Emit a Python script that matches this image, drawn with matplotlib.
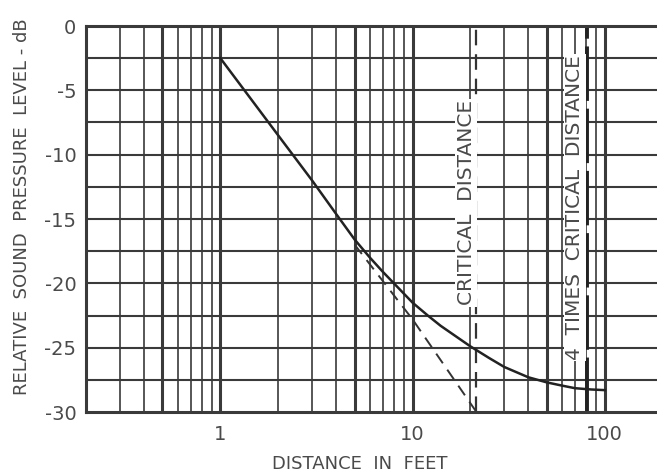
import matplotlib
matplotlib.use('Agg')
import matplotlib.pyplot as plt
import numpy as np

# Values
distance_ft = [1, 2, 3, 4, 5, 6, 7, 8, 10, 12, 14, 16, 20, 25, 30, 40, 50, 60, 70, 85, 100]
level_db = [-2.5, -8.5, -12.0, -14.6, -16.6, -18.0, -19.1, -20.0, -21.5, -22.5, -23.3,
            -23.9, -24.9, -25.8, -26.5, -27.3, -27.7, -27.95, -28.15, -28.25, -28.3]

# direct field only (dashed)
direct_ft = [5.0, 10, 21.5]
direct_db = [-17.0, -22.8, -30.0]

critical_distance = 21.3
four_times_critical = 81

y_ticks = [0, -5, -10, -15, -20, -25, -30]
x_tick_pos = [1, 10, 100]
x_tick_labels = ['1', '10', '100']

ink = '#3a3a3a'
txt = '#4a4a4a'

fig = plt.figure(figsize=(6.57, 4.73), dpi=100)
ax = fig.add_axes([86 / 657, 61 / 473, 571 / 657, 386 / 473])
ax.set_xscale('log')
ax.set_xlim(0.2, 187)
ax.set_ylim(-30, 0)

# grid
minor_x = [0.3, 0.4, 0.6, 0.7, 0.8, 0.9, 2, 3, 4, 6, 7, 8, 9,
           20, 30, 40, 60, 70, 80, 90]
major_x = [0.5, 1, 5, 10, 50, 100]
for xv in minor_x:
    ax.axvline(xv, color=ink, lw=1.2, zorder=1)
for xv in major_x:
    ax.axvline(xv, color=ink, lw=2.2, zorder=1)
for yv in np.arange(-27.5, 0, 2.5):
    ax.axhline(yv, color=ink, lw=1.5, zorder=1)

# curves
ax.plot(distance_ft, level_db, color='#222222', lw=1.8, zorder=3)
ax.plot(direct_ft, direct_db, color='#333333', lw=1.4, ls=(0, (6, 4)), zorder=3)

ax.axvline(critical_distance, color='#333333', lw=1.6, ls=(0, (7, 4)), zorder=2)
ax.axvline(four_times_critical, color='#222222', lw=2.8, ls=(0, (14, 2)), zorder=2)

ax.text(19.0, -13.75, 'CRITICAL  DISTANCE', rotation=90, ha='center', va='center',
        fontsize=14.5, color=txt, zorder=4,
        bbox=dict(facecolor='white', edgecolor='none', pad=1))
ax.text(70, -14.1, '4  TIMES  CRITICAL  DISTANCE', rotation=90, ha='center', va='center',
        fontsize=14.5, color=txt, zorder=4,
        bbox=dict(facecolor='white', edgecolor='none', pad=1))

# axes styling
for side in ['left', 'bottom', 'top']:
    ax.spines[side].set_linewidth(2.2)
    ax.spines[side].set_color(ink)
ax.spines['right'].set_visible(False)

ax.set_yticks(y_ticks)
ax.set_yticklabels([str(v) for v in y_ticks])
ax.set_xticks(x_tick_pos)
ax.set_xticklabels(x_tick_labels)
ax.xaxis.set_minor_locator(matplotlib.ticker.NullLocator())
ax.tick_params(axis='both', length=0, labelsize=14, labelcolor=txt)
ax.tick_params(axis='y', pad=7)
ax.tick_params(axis='x', pad=9)

fig.text(360 / 657, 1 - 464 / 473, 'DISTANCE  IN  FEET', ha='center', va='center',
         fontsize=13, color=txt)
fig.text(22 / 657, 1 - 207 / 473, 'RELATIVE  SOUND  PRESSURE  LEVEL - dB', rotation=90,
         ha='center', va='center', fontsize=13, color=txt)

plt.savefig('out.png', dpi=100)
